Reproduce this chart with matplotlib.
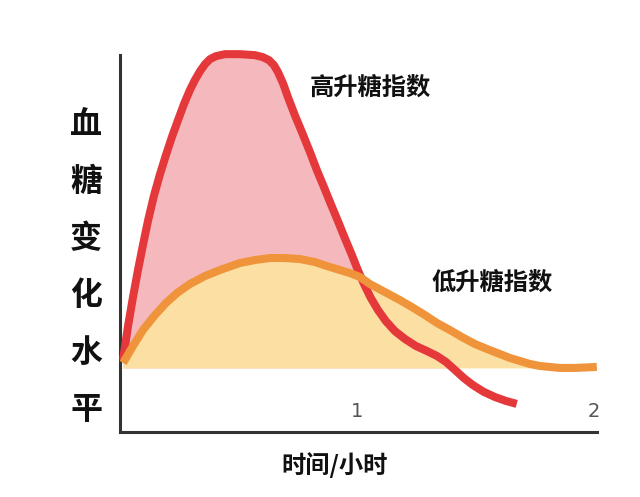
import numpy as np
import matplotlib
matplotlib.use('Agg')
import matplotlib.pyplot as plt

plt.rcParams['font.family'] = ['Noto Sans CJK SC', 'DejaVu Sans']

# time in hours, level relative to the starting baseline (arbitrary units)
high_t = [0.013, 0.034, 0.055, 0.076, 0.097, 0.118, 0.143, 0.169, 0.194, 0.219,
          0.245, 0.270, 0.295, 0.316, 0.338, 0.359, 0.380, 0.405, 0.443, 0.506,
          0.570, 0.603, 0.629, 0.650, 0.667, 0.688, 0.709, 0.738, 0.768, 0.802,
          0.831, 0.861, 0.890, 0.920, 0.949, 0.979, 1.004, 1.030, 1.059, 1.089,
          1.122, 1.160, 1.203, 1.249, 1.295, 1.338, 1.376, 1.414, 1.451, 1.489,
          1.536, 1.582, 1.629, 1.675]
high_gi = [0.8, 4.2, 7.1, 9.8, 12.3, 14.7, 17.2, 19.4, 21.3, 23.1,
           24.8, 26.4, 27.8, 28.8, 29.7, 30.4, 30.9, 31.2, 31.4, 31.4,
           31.3, 31.1, 30.8, 30.3, 29.6, 28.5, 27.1, 25.3, 23.6, 21.6,
           19.8, 18.1, 16.4, 14.7, 13.0, 11.3, 9.8, 8.4, 7.0, 5.8,
           4.7, 3.7, 2.9, 2.2, 1.7, 1.2, 0.6, -0.2, -1.0, -1.7,
           -2.4, -2.9, -3.3, -3.6]

low_t = [0.013, 0.055, 0.097, 0.148, 0.194, 0.241, 0.295, 0.359, 0.422, 0.506,
         0.570, 0.633, 0.696, 0.759, 0.823, 0.873, 0.928, 0.970, 1.013, 1.055,
         1.118, 1.181, 1.232, 1.287, 1.338, 1.392, 1.443, 1.498, 1.549, 1.603,
         1.646, 1.688, 1.730, 1.772, 1.814, 1.857, 1.920, 2.013]
low_gi = [0.5, 2.2, 3.8, 5.3, 6.5, 7.5, 8.4, 9.2, 9.8, 10.5,
          10.8, 11.0, 11.0, 10.9, 10.6, 10.2, 9.8, 9.5, 9.1, 8.4,
          7.6, 6.8, 6.1, 5.3, 4.5, 3.8, 3.1, 2.4, 1.9, 1.4,
          1.0, 0.7, 0.4, 0.2, 0.1, 0.0, 0.0, 0.1]

high_label = '高升糖指数'
low_label = '低升糖指数'
xlabel = '时间/小时'
ylabel = '血糖变化水平'
xticks = [1, 2]

red = '#e4383b'
orange = '#ef943b'
pink = '#f5b9bd'
yellow = '#fce0a3'

fig = plt.figure(figsize=(6.4, 4.97), dpi=100)
ax = fig.add_axes([0.1875, 0.131, 0.745, 0.758])

ax.fill_between(high_t, high_gi, 0, where=np.array(high_gi) >= 0,
                color=pink, lw=0, zorder=1, interpolate=True, clip_on=False)
ax.fill_between(low_t, low_gi, 0, color=yellow, lw=0, zorder=2)
ax.plot(high_t, high_gi, color=red, lw=5.8, solid_capstyle='butt',
        solid_joinstyle='round', zorder=3, clip_on=False)
ax.plot(low_t, low_gi, color=orange, lw=5.8, solid_capstyle='butt',
        solid_joinstyle='round', zorder=4, clip_on=False)

ax.set_xlim(0, 2.013)
ax.set_ylim(-6.4, 31.3)

for s in ['top', 'right']:
    ax.spines[s].set_visible(False)
for s in ['left', 'bottom']:
    ax.spines[s].set_color('#333333')
    ax.spines[s].set_linewidth(2.2)
ax.set_yticks([])
ax.set_xticks([])
for t in xticks:
    ax.text(t, -4.4, str(t), ha='center', va='center', fontsize=14,
            color='#555555', family='DejaVu Sans')

ax.text(0.802, 28.0, high_label, ha='left', va='center', fontsize=17.5,
        fontweight='bold', color='#111111')
ax.text(1.316, 8.5, low_label, ha='left', va='center', fontsize=17.5,
        fontweight='bold', color='#111111')

fig.text(335 / 640, 1 - 465 / 497, xlabel, ha='center', va='center',
         fontsize=17.5, fontweight='bold', color='#111111')
for i, ch in enumerate(ylabel):
    fig.text(86 / 640, 1 - (125 + 57 * i) / 497, ch, ha='center', va='center',
             fontsize=23, fontweight='bold', color='#111111')

fig.savefig('out.png', dpi=100, facecolor='white')
